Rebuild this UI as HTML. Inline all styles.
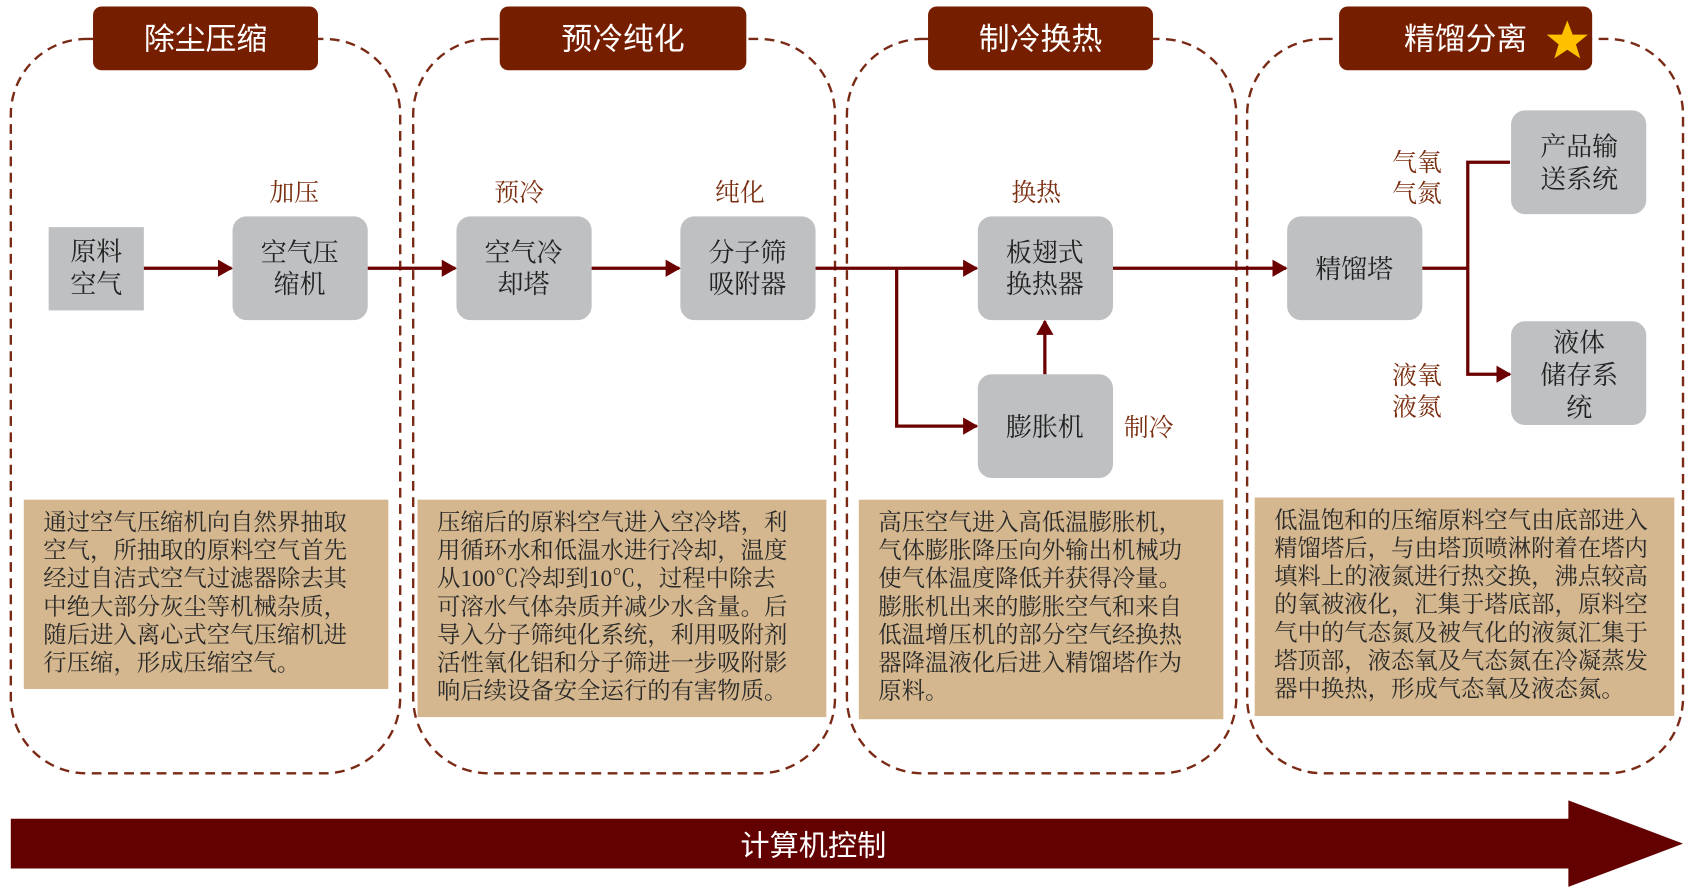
<!DOCTYPE html>
<html><head><meta charset="utf-8"><style>
html,body{margin:0;padding:0;background:#fff;width:1696px;height:895px;overflow:hidden}
svg{display:block}
.h{font-family:"Liberation Sans","Noto Sans CJK SC",sans-serif;font-size:28.5px;fill:#fff;text-anchor:middle}
.n{font-family:"Liberation Serif","Noto Serif CJK SC",serif;font-size:24px;fill:#222;text-anchor:middle}
.l{font-family:"Liberation Serif","Noto Serif CJK SC",serif;font-size:23px;fill:#7a2e10;text-anchor:middle}
.t{font-family:"Liberation Serif","Noto Serif CJK SC",serif;font-size:21.6px;fill:#2a2a2a}
</style></head><body>
<svg width="1696" height="895" viewBox="0 0 1568 827.5" preserveAspectRatio="none">
<defs>
<marker id="b" viewBox="0 0 10 10" markerWidth="14" markerHeight="16" refX="9" refY="5" orient="auto" markerUnits="userSpaceOnUse" preserveAspectRatio="none"><path d="M0,0 L10,5 L0,10 z" fill="#6b0000"/></marker></defs>
<g fill="none" stroke="#7a2a14" stroke-width="2.2" stroke-dasharray="9,6">
<rect x="10" y="36" width="360" height="679" rx="70"/>
<rect x="382" y="36" width="390" height="679" rx="70"/>
<rect x="783" y="36" width="360" height="679" rx="70"/>
<rect x="1153" y="36" width="403" height="679" rx="70"/>
</g>
<g fill="#761f00">
<rect x="86" y="6" width="208" height="59" rx="8"/>
<rect x="462" y="6" width="228" height="59" rx="8"/>
<rect x="858" y="6" width="208" height="59" rx="8"/>
<rect x="1238" y="6" width="234" height="59" rx="8"/>
</g>
<text class="h" x="190" y="46">除尘压缩</text>
<text class="h" x="576" y="46">预冷纯化</text>
<text class="h" x="962" y="46">制冷换热</text>
<text class="h" x="1355" y="46">精馏分离</text>
<polygon points="1449,19 1454,32 1468,32 1457,41 1461,54 1449,46 1437,54 1441,41 1430,32 1444,32" fill="#ffc000"/>
<g fill="#bfc0c2">
<rect x="45" y="210" width="88" height="77"/>
<rect x="215" y="200" width="125" height="96" rx="13"/>
<rect x="422" y="200" width="125" height="96" rx="13"/>
<rect x="629" y="200" width="125" height="96" rx="13"/>
<rect x="904" y="200" width="125" height="96" rx="13"/>
<rect x="904" y="346" width="125" height="96" rx="13"/>
<rect x="1190" y="200" width="125" height="96" rx="13"/>
<rect x="1397" y="102" width="125" height="96" rx="13"/>
<rect x="1397" y="297" width="125" height="96" rx="13"/>
</g>
<text class="n" x="89" y="241">原料</text><text class="n" x="89" y="271">空气</text>
<text class="n" x="277" y="242">空气压</text><text class="n" x="277" y="271">缩机</text>
<text class="n" x="484" y="242">空气冷</text><text class="n" x="484" y="271">却塔</text>
<text class="n" x="691" y="242">分子筛</text><text class="n" x="691" y="271">吸附器</text>
<text class="n" x="966" y="242">板翅式</text><text class="n" x="966" y="271">换热器</text>
<text class="n" x="966" y="403">膨胀机</text>
<text class="n" x="1252" y="257">精馏塔</text>
<text class="n" x="1460" y="144">产品输</text><text class="n" x="1460" y="174">送系统</text>
<text class="n" x="1460" y="325">液体</text><text class="n" x="1460" y="355">储存系</text><text class="n" x="1460" y="385">统</text>
<text class="l" x="272" y="186">加压</text>
<text class="l" x="480" y="186">预冷</text>
<text class="l" x="684" y="186">纯化</text>
<text class="l" x="958" y="186">换热</text>
<text class="l" x="1062" y="403">制冷</text>
<text class="l" x="1310" y="158">气氧</text><text class="l" x="1310" y="187">气氮</text>
<text class="l" x="1310" y="355">液氧</text><text class="l" x="1310" y="384">液氮</text>
<g stroke="#6b0000" stroke-width="3" fill="none">
<line x1="133" y1="248" x2="214" y2="248" marker-end="url(#b)"/>
<line x1="340" y1="248" x2="421" y2="248" marker-end="url(#b)"/>
<line x1="547" y1="248" x2="628" y2="248" marker-end="url(#b)"/>
<line x1="754" y1="248" x2="903" y2="248" marker-end="url(#b)"/>
<polyline points="829,248 829,394 903,394" marker-end="url(#b)"/>
<line x1="966" y1="346" x2="966" y2="297" marker-end="url(#b)"/>
<line x1="1029" y1="248" x2="1189" y2="248" marker-end="url(#b)"/>
<line x1="1315" y1="248" x2="1357" y2="248"/>
<polyline points="1396,150 1357,150 1357,346 1396,346" marker-end="url(#b)"/>
</g>
<g fill="#d4b78e">
<rect x="22" y="462" width="337" height="175"/>
<rect x="386" y="462" width="378" height="201"/>
<rect x="794" y="462" width="337" height="203"/>
<rect x="1160" y="460" width="388" height="202"/>
</g>
<g class="t">
<text x="40" y="490">通过空气压缩机向自然界抽取</text>
<text x="40" y="516">空气，所抽取的原料空气首先</text>
<text x="40" y="542">经过自洁式空气过滤器除去其</text>
<text x="40" y="568">中绝大部分灰尘等机械杂质，</text>
<text x="40" y="594">随后进入离心式空气压缩机进</text>
<text x="40" y="620">行压缩，形成压缩空气。</text>
<text x="404" y="490">压缩后的原料空气进入空冷塔，利</text>
<text x="404" y="516">用循环水和低温水进行冷却，温度</text>
<text x="404" y="542">从100℃冷却到10℃，过程中除去</text>
<text x="404" y="568">可溶水气体杂质并减少水含量。后</text>
<text x="404" y="594">导入分子筛纯化系统，利用吸附剂</text>
<text x="404" y="620">活性氧化铝和分子筛进一步吸附影</text>
<text x="404" y="646">响后续设备安全运行的有害物质。</text>
<text x="812" y="490">高压空气进入高低温膨胀机，</text>
<text x="812" y="516">气体膨胀降压向外输出机械功</text>
<text x="812" y="542">使气体温度降低并获得冷量。</text>
<text x="812" y="568">膨胀机出来的膨胀空气和来自</text>
<text x="812" y="594">低温增压机的部分空气经换热</text>
<text x="812" y="620">器降温液化后进入精馏塔作为</text>
<text x="812" y="646">原料。</text>
<text x="1178" y="488">低温饱和的压缩原料空气由底部进入</text>
<text x="1178" y="514">精馏塔后，与由塔顶喷淋附着在塔内</text>
<text x="1178" y="540">填料上的液氮进行热交换，沸点较高</text>
<text x="1178" y="566">的氧被液化，汇集于塔底部，原料空</text>
<text x="1178" y="592">气中的气态氮及被气化的液氮汇集于</text>
<text x="1178" y="618">塔顶部，液态氧及气态氮在冷凝蒸发</text>
<text x="1178" y="644">器中换热，形成气态氧及液态氮。</text>
</g>
<polygon points="10,757 1450,757 1450,740 1556,780 1450,820 1450,803 10,803" fill="#630000"/>
<text class="h" x="752" y="791" style="font-size:27px">计算机控制</text>
</svg>
</body></html>
